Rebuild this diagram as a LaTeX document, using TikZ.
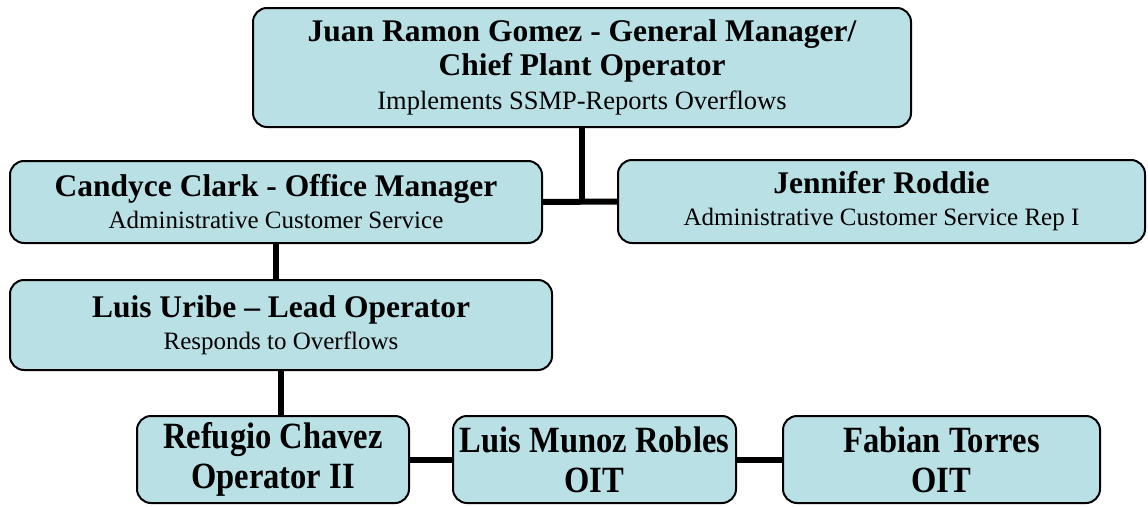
\documentclass[tikz,border=0pt]{standalone}
\usepackage{fontspec}
\setmainfont{Liberation Serif}
\newfontfamily\narrowserif[FakeStretch=0.88]{Liberation Serif}
\usepackage{tikz}
\usetikzlibrary{positioning}
\definecolor{boxfill}{RGB}{185,224,228}
\newcommand{\duty}[1]{{\fontsize{25}{28}\selectfont\mdseries #1}}

\begin{document}
\begin{tikzpicture}[x=1pt, y=-1pt,
		post/.style={draw=black, line width=2pt, fill=boxfill, rounded corners=14pt,
			align=center, inner sep=0pt, font=\fontsize{31.5}{34}\selectfont\bfseries},
		crew/.style={post, font=\narrowserif\fontsize{37}{40}\selectfont\bfseries},
		link/.style={line width=6pt}]
		\useasboundingbox (0,0) rectangle (1148,506);
		% boxes
		\node[post, minimum width=658pt, minimum height=119pt] (gm) at (582,67.5)
			{Juan Ramon Gomez - General Manager/\\Chief Plant Operator\\[0pt]{\fontsize{26.5}{29}\selectfont\mdseries Implements SSMP-Reports Overflows}};
		\node[post, minimum width=532pt, minimum height=82pt] (office) at (276,202)
			{Candyce Clark - Office Manager\\[-2pt]\duty{Administrative Customer Service}};
		\node[post, minimum width=527pt, minimum height=83pt] (rep) at (881.5,201.5)
			{Jennifer Roddie\\[-2pt]\duty{Administrative Customer Service Rep I}};
		\node[post, minimum width=542pt, minimum height=90pt] (lead) at (281,325)
			{Luis Uribe -- Lead Operator\\[-2pt]\duty{Responds to Overflows}};
		\node[crew, minimum width=272pt, minimum height=87pt] (op) at (273,459.5)
			{Refugio Chavez\\Operator II};
		\node[crew, minimum width=283pt, minimum height=87pt] (oit1) at (594.5,459.5)
			{Luis Munoz Robles\\OIT};
		\node[crew, minimum width=317pt, minimum height=87pt] (oit2) at (941.5,459.5)
			{Fabian Torres\\OIT};
		% lines
		\draw[link] (gm.south) -- (gm.south |- office.east);
		\draw[link] (office.east) -- (rep.west);
		\draw[link] (office.south) -- (office.south |- lead.north);
		\draw[link] (lead.south) -- (lead.south |- op.north);
		\draw[link] (op.east) -- (oit1.west);
		\draw[link] (oit1.east) -- (oit2.west);
	\end{tikzpicture}
\end{document}
